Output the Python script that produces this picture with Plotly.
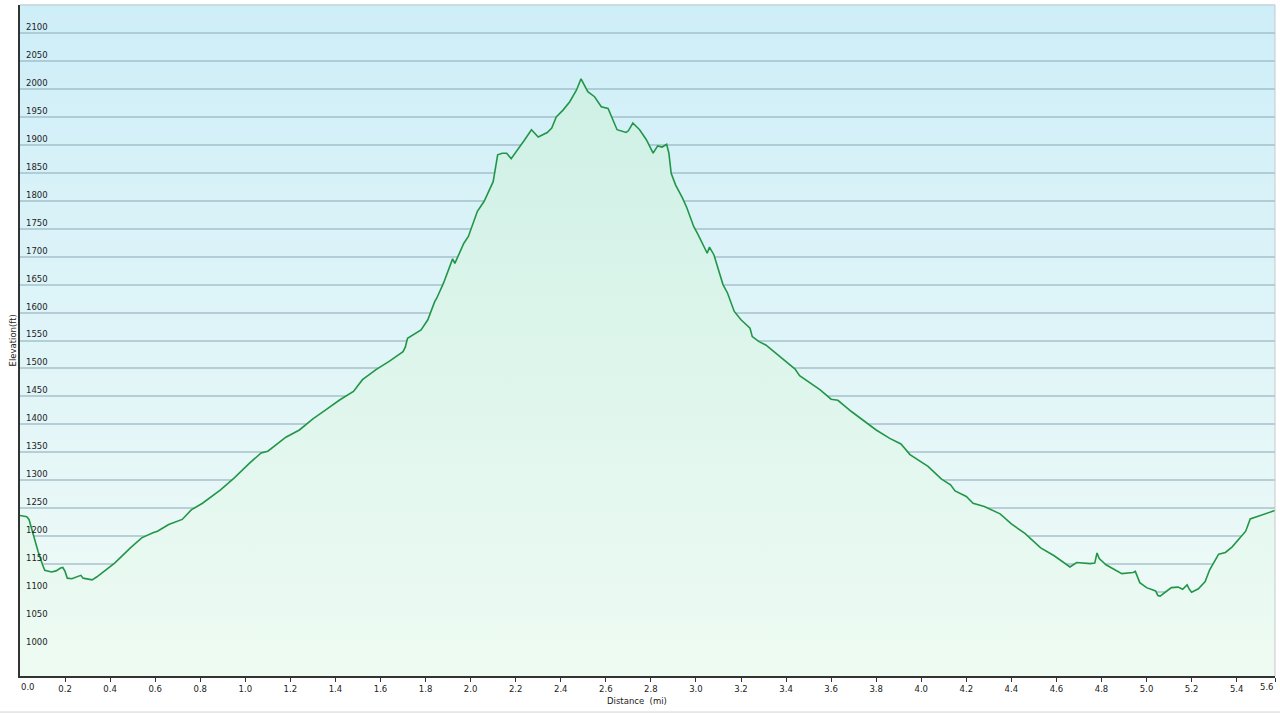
import plotly.graph_objects as go
import numpy as np

# ---- data ----
distance_mi = [
    0.00, 0.03, 0.04, 0.06, 0.08, 0.10, 0.11, 0.14, 0.16, 0.18, 0.19, 0.20, 0.21, 0.23, 0.25,
    0.27, 0.28, 0.30, 0.32, 0.34, 0.37, 0.42, 0.49, 0.54, 0.59, 0.61, 0.66, 0.72, 0.76, 0.81,
    0.89, 0.95, 1.02, 1.07, 1.10, 1.18, 1.24, 1.30, 1.36, 1.42, 1.48, 1.52, 1.58, 1.64, 1.70,
    1.71, 1.72, 1.78, 1.81, 1.82, 1.84, 1.85, 1.88, 1.92, 1.93, 1.97, 1.99, 2.03, 2.06, 2.10,
    2.12, 2.14, 2.16, 2.18, 2.21, 2.24, 2.27, 2.30, 2.34, 2.36, 2.38, 2.41, 2.44, 2.47, 2.49,
    2.52, 2.55, 2.58, 2.61, 2.65, 2.69, 2.70, 2.72, 2.75, 2.78, 2.81, 2.83, 2.85, 2.87, 2.88,
    2.89, 2.91, 2.94, 2.96, 2.99, 3.01, 3.05, 3.06, 3.08, 3.12, 3.14, 3.17, 3.20, 3.24, 3.25,
    3.28, 3.31, 3.38, 3.44, 3.46, 3.55, 3.60, 3.63, 3.69, 3.76, 3.80, 3.86, 3.91, 3.95, 4.03,
    4.09, 4.13, 4.15, 4.20, 4.23, 4.28, 4.35, 4.40, 4.46, 4.53, 4.59, 4.66, 4.69, 4.75, 4.77,
    4.78, 4.79, 4.82, 4.89, 4.94, 4.95, 4.97, 5.00, 5.04, 5.05, 5.06, 5.09, 5.11, 5.14, 5.16,
    5.18, 5.19, 5.20, 5.23, 5.26, 5.28, 5.32, 5.35, 5.38, 5.42, 5.44, 5.46, 5.51, 5.55, 5.57,
]
elevation_ft = [
    1237, 1235, 1230, 1200, 1173, 1149, 1139, 1136, 1138, 1143, 1144, 1137, 1125, 1124, 1127,
    1130, 1125, 1123, 1122, 1127, 1137, 1152, 1179, 1197, 1206, 1209, 1221, 1230, 1247, 1259,
    1283, 1304, 1331, 1349, 1352, 1377, 1390, 1410, 1427, 1444, 1459, 1480, 1498, 1513, 1530,
    1538, 1554, 1569, 1587, 1599, 1619, 1626, 1653, 1696, 1688, 1724, 1736, 1781, 1799, 1834,
    1882, 1885, 1885, 1875, 1891, 1909, 1927, 1914, 1922, 1930, 1950, 1962, 1977, 1998, 2018,
    1995, 1986, 1968, 1965, 1927, 1922, 1925, 1939, 1927, 1909, 1885, 1898, 1896, 1901, 1885,
    1849, 1828, 1805, 1787, 1754, 1739, 1706, 1717, 1703, 1650, 1635, 1602, 1587, 1572, 1557,
    1548, 1542, 1518, 1499, 1487, 1462, 1445, 1443, 1423, 1402, 1390, 1375, 1365, 1346, 1325,
    1302, 1292, 1281, 1271, 1259, 1253, 1240, 1222, 1205, 1179, 1165, 1145, 1153, 1151, 1152,
    1170, 1160, 1149, 1133, 1135, 1137, 1117, 1108, 1102, 1094, 1093, 1102, 1108, 1109, 1105,
    1113, 1105, 1100, 1106, 1119, 1140, 1168, 1171, 1181, 1199, 1209, 1231, 1238, 1244, 1246,
]
y_tick_values = list(range(1000, 2101, 50))
x_tick_step_values = [round(v, 1) for v in np.arange(0.0, 5.41, 0.2)]
y_range = [950, 2150]

FONT = "DejaVu Sans"
TXT = "#222"

fig = go.Figure()
fig.add_trace(go.Scatter(
    x=distance_mi, y=elevation_ft, mode="lines",
    line=dict(color="rgb(34,150,72)", width=1.6),
    fill="tozeroy",
    fillgradient=dict(type="vertical", start=950, stop=2050,
                      colorscale=[[0, "rgb(238,251,243)"], [1, "rgb(206,240,229)"]]),
    hoverinfo="skip", showlegend=False,
))

# background vertical gradient stripes (styling only)
shapes = []
n = 60
top = np.array([206, 238, 248])
bot = np.array([241, 251, 247])
for i in range(n):
    t = (i + 0.5) / n
    c = top * (1 - t) + bot * t
    col = "rgb(%d,%d,%d)" % tuple(c.round().astype(int))
    shapes.append(dict(type="rect", xref="x domain", yref="y domain",
                       x0=0, x1=1, y0=1 - (i + 1) / n, y1=1 - i / n + 0.001,
                       fillcolor=col, line=dict(width=0), layer="below"))
# light frame top/right
shapes.append(dict(type="line", xref="x domain", yref="y domain", x0=0, x1=1, y0=1, y1=1,
                   line=dict(color="#c4c8ca", width=1), layer="above"))
shapes.append(dict(type="line", xref="x domain", yref="y domain", x0=1, x1=1, y0=0, y1=1,
                   line=dict(color="#c4c8ca", width=1), layer="above"))
# thin border at figure bottom
shapes.append(dict(type="line", xref="paper", yref="paper", x0=-0.02, x1=1.01,
                   y0=-0.0537, y1=-0.0537, line=dict(color="#d4d4d4", width=1)))

x_tickvals = x_tick_step_values + [distance_mi[-1]]
x_labels = ["%.1f" % v for v in x_tickvals]
# first and last labels are drawn as annotations so they stay inside the figure
x_ticktext = [""] + x_labels[1:-1] + [""]

tick_font = dict(family=FONT, size=8.5, color=TXT)
annotations = [
    dict(text="Elevation(ft)", textangle=-90, showarrow=False,
         xref="paper", yref="paper", x=-0.0056, y=0.5, xanchor="center", yanchor="middle",
         font=tick_font),
    dict(text="Distance\u00a0 (mi)", showarrow=False,
         xref="paper", yref="paper", x=0.4916, y=-0.0375, xanchor="center", yanchor="middle",
         font=tick_font),
    dict(text=x_labels[0], showarrow=False, xref="x", yref="paper",
         x=x_tickvals[0], y=-0.0164, xanchor="left", yanchor="middle", xshift=-1,
         font=tick_font),
    dict(text=x_labels[-1], showarrow=False, xref="x", yref="paper",
         x=x_tickvals[-1], y=-0.0164, xanchor="right", yanchor="middle", xshift=1,
         font=tick_font),
]

fig.update_layout(
    width=1280, height=714,
    margin=dict(l=20, r=5, t=5, b=38),
    paper_bgcolor="white",
    plot_bgcolor="rgb(225,245,248)",
    font=dict(family=FONT, size=8.5, color=TXT),
    shapes=shapes,
    annotations=annotations,
    hovermode=False,
    xaxis=dict(
        range=[0, distance_mi[-1]],
        tickvals=x_tickvals, ticktext=x_ticktext,
        ticks="outside", ticklen=4, tickcolor="#333", tickwidth=1,
        showgrid=False, zeroline=False,
        showline=True, linecolor="#333", linewidth=1.5,
        tickfont=tick_font,
        automargin=False,
    ),
    yaxis=dict(
        range=y_range,
        tickvals=y_tick_values,
        ticks="", ticklabelposition="inside",
        ticklabelshift=-6, ticklabelstandoff=5,
        showgrid=True, gridcolor="rgba(150,180,192,0.6)", gridwidth=1.5,
        zeroline=False,
        showline=True, linecolor="#333", linewidth=1.5,
        tickfont=tick_font,
        automargin=False,
    ),
)

fig.write_html(
    "out.html",
    config={"displayModeBar": False},
    post_script="document.body.style.margin='0';document.body.style.overflow='hidden';",
)
